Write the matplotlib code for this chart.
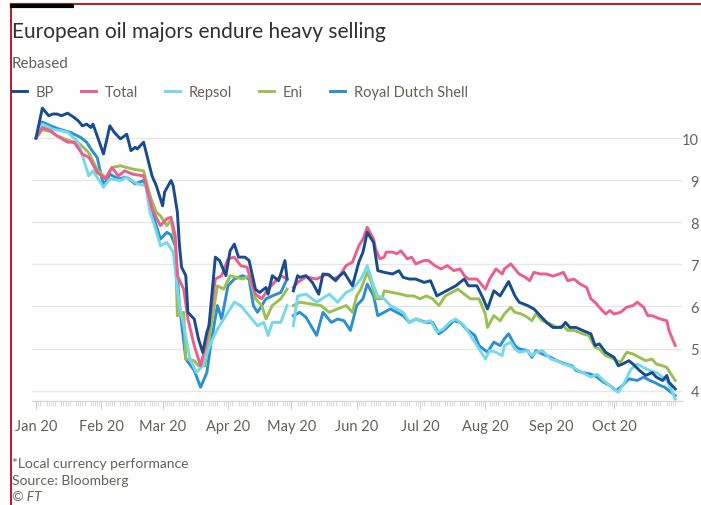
import numpy as np
import pandas as pd
import matplotlib
matplotlib.use("Agg")
import matplotlib.pyplot as plt
import matplotlib.dates as mdates
from matplotlib.lines import Line2D
from matplotlib.ticker import FixedLocator

plt.rcParams['font.family'] = ['Lato', 'DejaVu Sans']

nan = np.nan
start = pd.Timestamp('2020-01-01')

# days since 1 Jan 2020, value rebased to 100 (nan = missing day)
bp_days = [0, 3, 6, 8, 10, 12, 15, 18, 20, 22,
           24, 26, 27, 29, 32, 35, 37, 40, 43, 45,
           47, 48, 51, 53, 55, 57, 60, 61, 64, 65,
           67, 68, 69, 71, 72, 75, 77, 79, 81, 82,
           85, 87, 90, 92, 94, 96, 99, 101, 104, 106,
           109, 110, 112, 115, 118, 119, 120, 122, 124, 125,
           128, 131, 134, 136, 139, 142, 144, 146, 150, 153,
           155, 157, 160, 162, 165, 169, 172, 174, 177, 180,
           184, 187, 190, 193, 196, 199, 203, 205, 209, 212,
           214, 217, 220, 224, 227, 229, 233, 236, 239, 242,
           245, 249, 251, 253, 256, 259, 263, 265, 267, 270,
           274, 276, 278, 281, 283, 286, 289, 292, 294, 297,
           299, 300, 303]
bp_vals = [100, 107.1, 105.3, 105.7, 105.7, 105.3, 105.9, 104.9, 104.1, 102.9,
           103.3, 102.5, 103.3, 100.5, 96.2, 102.9, 101.4, 99.8, 100.9, 97.0,
           97.8, 97.4, 99.0, 95.0, 91.0, 88.7, 83.9, 87.2, 89.9, 88.7,
           82.4, 74.4, 69.3, 67.3, 58.6, 57.0, 52.3, 49.1, 53.9, 55.4,
           71.7, 70.9, 67.3, 73.2, 74.8, 71.7, 71.7, 70.9, 64.1, 63.3,
           64.5, 62.9, 67.3, 66.1, 70.9, 66.5, nan, 63.7, 67.3, 66.9,
           67.3, 65.7, 62.9, 67.7, 67.5, 66.1, 67.3, 68.1, 64.9, 70.5,
           72.9, 77.6, 75.2, 68.5, 68.1, 67.7, 68.5, 66.9, 66.5, 66.5,
           65.7, 66.1, 62.5, 63.3, 64.1, 64.9, 66.5, 64.9, 64.9, 61.8,
           59.4, 63.7, 62.5, 65.9, 62.5, 61.0, 60.2, 59.4, 57.8, 56.2,
           55.0, 55.0, 56.2, 55.0, 55.0, 54.3, 53.5, 50.7, 51.1, 49.1,
           47.9, 45.9, 46.3, 47.1, 46.3, 44.8, 43.6, 44.3, 43.2, 42.4,
           43.6, 42.0, 40.4]

total_days = [0, 3, 7, 10, 15, 18, 22, 25, 26, 29,
              33, 36, 39, 42, 46, 51, 53, 55, 59, 62,
              64, 66, 67, 70, 72, 75, 78, 80, 82, 85,
              88, 91, 94, 97, 100, 104, 107, 110, 113, 116,
              119, 120, 122, 124, 128, 133, 138, 141, 144, 147,
              150, 153, 155, 157, 160, 161, 163, 165, 166, 169,
              171, 173, 176, 178, 180, 184, 186, 189, 192, 195,
              198, 201, 203, 205, 209, 213, 215, 218, 221, 222,
              225, 227, 229, 232, 234, 236, 239, 242, 245, 248,
              250, 252, 255, 258, 261, 263, 265, 267, 270, 272,
              274, 277, 280, 283, 285, 288, 290, 292, 296, 299,
              300, 303]
total_vals = [100, 102.5, 101.7, 100.5, 99.0, 99.0, 96.2, 95.4, 94.6, 91.8,
              90.3, 93.0, 91.0, 92.2, 91.4, 91.0, 87.1, 83.1, 79.2, 80.8,
              81.2, 76.8, 67.3, 64.1, 57.0, 50.7, 45.9, 49.9, 55.4, 66.5,
              67.3, 71.3, 71.7, 69.7, 69.3, 62.9, 61.8, 64.1, 65.7, 67.3,
              66.5, nan, 64.5, 65.7, 67.0, 66.5, 67.7, 66.5, 67.3, 69.7,
              70.5, 74.4, 76.0, 78.8, 76.0, 73.6, 71.3, 71.7, 72.9, 72.9,
              72.5, 73.2, 71.3, 71.7, 70.1, 70.9, 70.9, 69.7, 68.9, 69.7,
              68.5, 68.9, 67.3, 66.5, 66.5, 64.1, 66.5, 68.9, 67.7, 68.9,
              70.1, 68.9, 67.7, 66.9, 66.1, 68.1, 67.7, 67.7, 67.2, 67.7,
              68.1, 66.1, 66.5, 65.3, 64.5, 61.8, 61.0, 59.8, 58.2, 59.0,
              58.2, 58.6, 59.8, 60.2, 61.0, 59.8, 57.8, 57.8, 57.0, 56.6,
              54.3, 50.7]

repsol_days = [0, 3, 8, 15, 20, 22, 25, 27, 32, 35,
               40, 43, 48, 52, 54, 56, 59, 62, 65, 68,
               70, 73, 76, 79, 83, 86, 90, 94, 97, 101,
               105, 108, 110, 112, 116, 119, 120, 122, 124, 128,
               133, 139, 143, 147, 150, 154, 156, 157, 160, 162,
               165, 168, 171, 174, 177, 180, 184, 187, 190, 193,
               196, 199, 203, 206, 209, 213, 215, 218, 221, 222,
               225, 227, 229, 233, 235, 237, 240, 244, 247, 250,
               253, 256, 259, 263, 266, 269, 272, 276, 279, 282,
               285, 288, 291, 294, 296, 299, 301, 303]
repsol_vals = [100, 103.3, 102.1, 101.4, 99.0, 95.8, 91.0, 92.2, 88.3, 90.3,
               89.9, 90.7, 89.1, 88.7, 82.4, 79.5, 74.4, 75.2, 72.9, 60.2,
               55.4, 47.5, 44.3, 45.9, 51.5, 54.6, 57.8, 61.0, 60.2, 57.8,
               55.4, 56.2, 53.1, 56.2, 56.2, 60.2, nan, 55.4, 62.5, 62.9,
               61.0, 62.9, 61.0, 63.3, 64.1, 66.5, 68.5, 69.7, 64.9, 62.5,
               61.8, 60.2, 59.4, 58.6, 56.2, 57.0, 56.2, 56.6, 53.9, 54.6,
               56.2, 57.0, 55.4, 53.1, 50.7, 47.5, 49.5, 49.1, 48.3, 50.7,
               51.5, 49.9, 49.1, 49.5, 48.3, 49.1, 49.5, 47.5, 47.1, 46.3,
               45.9, 45.1, 44.3, 43.2, 43.9, 42.4, 41.2, 39.6, 42.0, 45.1,
               46.3, 45.5, 44.8, 44.3, 43.6, 42.4, 40.4, 38.0]

eni_days = [0, 3, 7, 10, 15, 21, 25, 29, 33, 36,
            40, 46, 51, 54, 57, 59, 62, 64, 66, 67,
            70, 71, 75, 77, 80, 82, 86, 89, 92, 95,
            98, 101, 104, 107, 109, 112, 116, 119, 120, 122,
            125, 130, 135, 139, 143, 147, 150, 152, 154, 157,
            159, 161, 164, 165, 169, 173, 176, 179, 182, 185,
            188, 191, 194, 197, 200, 203, 206, 210, 213, 214,
            217, 220, 222, 225, 227, 230, 233, 235, 237, 240,
            244, 247, 250, 252, 255, 259, 262, 265, 267, 270,
            274, 277, 280, 283, 286, 289, 292, 294, 297, 299,
            301, 303]
eni_vals = [100, 102.0, 101.5, 100.5, 99.5, 98.5, 96.5, 92.5, 90.5, 93.0,
            93.4, 92.6, 92.2, 86.3, 82.4, 81.5, 79.2, 80.5, 75.2, 57.8,
            58.6, 47.5, 47.1, 45.9, 45.9, 52.3, 64.9, 64.1, 67.3, 66.9,
            66.5, 67.3, 61.8, 60.2, 57.0, 60.2, 61.8, 64.1, nan, 60.2,
            61.0, 60.6, 60.2, 58.6, 59.4, 60.2, 58.6, 62.5, 64.1, 68.1,
            65.7, 61.8, 61.8, 63.7, 63.3, 62.9, 62.5, 62.5, 61.8, 62.5,
            61.8, 60.2, 62.5, 63.3, 64.1, 62.9, 61.8, 61.8, 58.2, 55.0,
            57.8, 56.6, 58.2, 59.8, 58.6, 58.2, 57.4, 56.6, 58.2, 56.6,
            55.8, 55.0, 55.4, 54.3, 54.3, 53.5, 53.1, 50.3, 49.9, 48.3,
            47.5, 46.7, 49.1, 48.7, 47.9, 47.1, 47.5, 46.3, 45.9, 45.5,
            43.9, 42.4]

rds_days = [0, 3, 7, 11, 16, 21, 24, 26, 29, 32,
            35, 39, 43, 47, 51, 54, 56, 59, 62, 64,
            66, 68, 71, 75, 78, 81, 83, 86, 88, 91,
            94, 98, 101, 103, 105, 109, 112, 116, 119, 120,
            122, 125, 128, 133, 136, 140, 143, 146, 149, 152,
            155, 157, 160, 162, 165, 168, 171, 174, 177, 180,
            185, 188, 191, 194, 198, 201, 204, 208, 210, 214,
            217, 220, 222, 224, 227, 229, 233, 235, 237, 240,
            244, 247, 249, 251, 254, 256, 259, 263, 266, 269,
            272, 275, 278, 281, 285, 288, 291, 293, 296, 298,
            300, 303]
rds_vals = [100, 103.8, 102.9, 102.1, 101.4, 100.2, 99.0, 97.4, 95.4, 88.7,
            91.4, 90.3, 90.7, 89.1, 89.9, 86.3, 80.8, 76.0, 77.6, 77.0,
            74.4, 60.2, 47.5, 44.8, 40.8, 44.3, 51.5, 60.2, 57.0, 64.9,
            66.5, 67.3, 66.5, 60.2, 58.6, 61.8, 62.5, 63.3, 66.5, nan,
            57.8, 58.6, 57.4, 53.1, 58.6, 56.2, 57.0, 56.6, 54.3, 60.2,
            61.8, 65.3, 62.5, 57.8, 58.6, 59.4, 58.6, 57.8, 56.2, 57.0,
            56.2, 56.2, 53.5, 54.6, 56.6, 56.2, 54.6, 53.1, 50.7, 49.1,
            51.5, 50.7, 52.3, 53.5, 50.7, 49.9, 49.5, 47.9, 49.5, 48.7,
            47.9, 47.1, 46.7, 46.3, 45.9, 44.8, 44.3, 43.9, 43.2, 42.0,
            41.2, 40.0, 41.2, 42.8, 42.4, 43.2, 42.4, 42.0, 41.2, 40.8,
            40.0, 38.8]

names = ['BP', 'Total', 'Repsol', 'Eni', 'Royal Dutch Shell']
colors = ['#174d8f', '#ea5f8d', '#76d9ea', '#9bbf52', '#2b8fd2']
series = [(bp_days, bp_vals), (total_days, total_vals), (repsol_days, repsol_vals),
          (eni_days, eni_vals), (rds_days, rds_vals)]
yticks = [40, 50, 60, 70, 80, 90, 100]
# the screenshot cuts the right-hand labels after their first digits
ytick_labels = ['4', '5', '6', '7', '8', '9', '10']
month_starts = pd.date_range('2020-01-01', '2020-10-01', freq='MS')

W, H = 701, 506
fig = plt.figure(figsize=(W / 100, H / 100), dpi=100)
fig.patch.set_facecolor('white')
ax = fig.add_axes([32 / W, 1 - 402 / H, 650 / W, 297 / H])

grey = '#66605c'
handles = {}
for i in [4, 3, 2, 1, 0]:
    d, v = series[i]
    dates = start + pd.to_timedelta(d, unit='D')
    ln, = ax.plot(dates, v, color=colors[i], lw=2.1, label=names[i],
                  solid_joinstyle='round', zorder=3 + (5 - i))
    handles[i] = ln

ax.set_ylim(37.53, 108.08)
ax.set_xlim(start + pd.Timedelta(days=-1.9), start + pd.Timedelta(days=306.2))

ax.yaxis.tick_right()
ax.set_yticks(yticks)
ax.set_yticklabels(ytick_labels)
ax.tick_params(axis='y', length=0, pad=12.2, labelsize=10.5, labelcolor=grey)
for lab in ax.get_yticklabels():
    lab.set_horizontalalignment('right')
ax.grid(axis='y', color='#e9e7e5', lw=1)
ax.set_axisbelow(True)

ax.xaxis.set_major_locator(FixedLocator(mdates.date2num(month_starts)))
ax.xaxis.set_major_formatter(mdates.DateFormatter('%b %y'))
bdays = pd.bdate_range('2020-01-01', '2020-10-30')
ax.xaxis.set_minor_locator(FixedLocator(mdates.date2num(bdays)))
ax.tick_params(axis='x', which='major', length=6, width=0.8, color='#cfcfcf',
               pad=7, labelsize=10.5, labelcolor=grey)
ax.tick_params(axis='x', which='minor', length=3.6, width=0.7, color='#dcdcdc')

for s in ['top', 'left', 'right']:
    ax.spines[s].set_visible(False)
ax.spines['bottom'].set_color('#d8d8d8')
ax.spines['bottom'].set_linewidth(1)

# header and footer
fig.text(12 / W, 1 - 38 / H, 'European oil majors endure heavy selling',
         fontsize=15, color='#33302e', va='baseline')
fig.text(12 / W, 1 - 68 / H, 'Rebased', fontsize=11, color=grey, va='baseline')

fig.legend([handles[i] for i in range(5)], names, loc='center left',
           bbox_to_anchor=(12 / W, 1 - 93 / H), ncol=5, frameon=False,
           fontsize=10.5, handlelength=1.03, handletextpad=0.6, columnspacing=1.85,
           borderpad=0, borderaxespad=0, labelcolor=grey)

fig.text(12 / W, 1 - 464 / H, '*Local currency performance', fontsize=10,
         color=grey, va='center')
fig.text(12 / W, 1 - 481 / H, 'Source: Bloomberg', fontsize=10,
         color=grey, va='center')
fig.text(12 / W, 1 - 497 / H, '© FT', fontsize=10, color=grey,
         va='center', style='italic')

# frame edges of the screenshot
fig.add_artist(Line2D([11 / W, 11 / W], [0, 1 - 5 / H], color='#b0262b',
                      lw=1.5, transform=fig.transFigure))
fig.add_artist(Line2D([11 / W, 1], [1 - 5 / H, 1 - 5 / H], color='#b0262b',
                      lw=1.5, transform=fig.transFigure))
fig.add_artist(Line2D([12 / W, 72 / W], [1 - 7 / H, 1 - 7 / H], color='black',
                      lw=3, transform=fig.transFigure))

fig.savefig('out.png', dpi=100)
